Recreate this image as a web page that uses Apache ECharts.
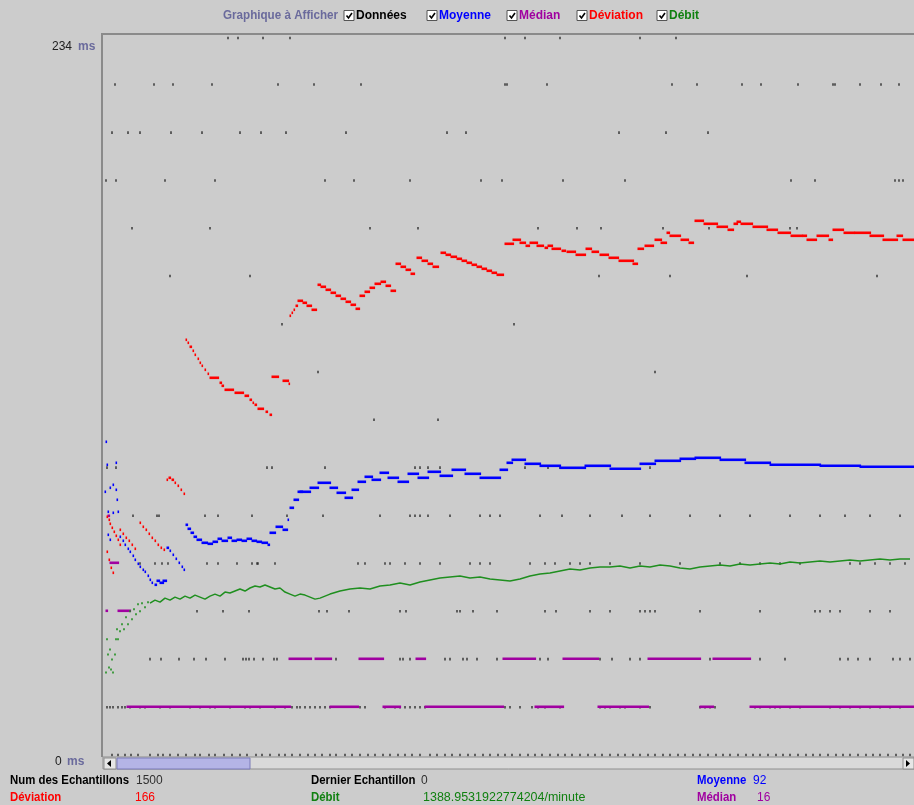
<!DOCTYPE html>
<html>
<head>
<meta charset="utf-8">
<script src="https://cdn.jsdelivr.net/npm/echarts@6/dist/echarts.min.js"></script>
<style>
  html, body { margin: 0; padding: 0; background: #cccccc; }
  #chart { width: 914px; height: 805px; }
</style>
</head>
<body>
<div id="chart"></div>
<script>
// Graph of sampler response times: one sample per pixel column.
// Values in ms; Débit in requests per minute (own hidden scale).

const yTickLabels = ['234', '0'];
const yUnit = 'ms';
const legendItems = ['Données', 'Moyenne', 'Médian', 'Déviation', 'Débit'];

// Données: individual samples, grouped by their (quantised) response time
const donneesLevels = [234, 218.8, 203.1, 187.5, 171.9, 156.3, 140.6, 125, 109.4, 93.8, 78.1, 62.5, 46.9, 31.3, 15.6, 0];
const donneesSamples = [
  [125, 135, 160, 187, 402, 422, 457, 537, 573],
  [12, 51, 70, 109, 175, 211, 258, 402, 404, 444, 569, 594, 639, 658, 695, 730, 732, 757, 778, 796],
  [9, 25, 37, 68, 99, 137, 158, 183, 243, 344, 363, 516, 563, 605],
  [3, 13, 62, 112, 222, 251, 307, 378, 399, 460, 522, 688, 712, 792, 796, 800],
  [29, 107, 267, 315, 435, 474, 498, 560, 606, 687, 694],
  [67, 147, 496, 567, 644, 774],
  [179, 411],
  [215, 552],
  [271, 335],
  [4, 13, 164, 169, 222, 312, 317, 325, 337, 422, 445, 457, 547],
  [30, 54, 56, 102, 115, 149, 184, 220, 277, 307, 312, 317, 325, 347, 377, 387, 397, 437, 459, 487, 519, 547, 587, 617, 647, 687, 717, 742, 767, 797],
  [37, 52, 59, 65, 104, 115, 134, 149, 154, 155, 172, 255, 262, 282, 287, 302, 317, 337, 367, 377, 387, 427, 442, 452, 467, 477, 487, 507, 537, 577, 617, 637, 657, 677, 697, 747, 757, 772, 787, 802],
  [94, 120, 146, 216, 224, 246, 297, 303, 354, 357, 370, 394, 442, 453, 487, 507, 537, 542, 547, 552, 597, 657, 712, 717, 727, 737, 767, 787],
  [47, 58, 76, 91, 103, 122, 140, 143, 146, 151, 160, 171, 174, 233, 297, 300, 307, 342, 347, 360, 364, 374, 394, 437, 445, 497, 509, 527, 537, 607, 657, 682, 737, 745, 755, 767, 790, 797, 807],
  [4, 7, 10, 15, 19, 22, 27, 37, 42, 57, 67, 87, 97, 107, 112, 127, 142, 147, 157, 172, 182, 189, 194, 197, 202, 207, 212, 217, 222, 227, 257, 262, 282, 292, 297, 302, 307, 312, 317, 322, 402, 407, 417, 429, 435, 442, 457, 497, 502, 507, 517, 522, 537, 547, 597, 602, 607, 612, 652, 657, 667, 672, 677, 687, 697, 727, 737, 747, 757, 767, 777, 787, 797],
  [9, 15, 22, 28, 35, 47, 55, 60, 67, 75, 83, 92, 97, 106, 112, 121, 129, 137, 144, 153, 159, 167, 176, 182, 189, 197, 205, 212, 219, 227, 233, 242, 249, 257, 265, 272, 280, 287, 295, 302, 309, 317, 327, 334, 342, 349, 357, 365, 372, 380, 387, 395, 402, 409, 417, 425, 432, 439, 447, 455, 462, 469, 477, 485, 492, 499, 507, 515, 522, 530, 537, 545, 552, 560, 567, 575, 582, 590, 597, 605, 613, 620, 627, 635, 643, 650, 657, 665, 673, 680, 687, 695, 703, 710, 717, 725, 733, 740, 747, 755, 763, 770, 777, 785, 793, 800, 807]
];

// Moyenne: runs of constant running average [first sample, last sample, ms]
const moyenneRuns = [
  [3, 3, 102.2], [4, 4, 94.6], [13, 13, 95.3], [2, 2, 85.8], [7, 7, 87.1], [10, 10, 88.1], [13, 13, 86.5], [14, 14, 83.2],
  [5, 5, 79.3], [10, 10, 79.0], [15, 15, 79.3], [5, 5, 71.8], [7, 7, 70.2],
  [17, 17, 71.1], [20, 20, 69.8], [22, 22, 68.5], [25, 25, 67.2], [27, 27, 66.3], [30, 30, 64.9], [32, 32, 63.6], [35, 35, 62.3],
  [37, 37, 61.4], [40, 40, 60.4], [42, 42, 59.7], [45, 45, 58.4], [47, 47, 57.1], [49, 49, 56.1], [52, 53, 55.5], [54, 56, 56.8],
  [57, 60, 56.1], [60, 63, 56.8],
  [64, 65, 67.6], [67, 67, 66.6], [70, 70, 65.3], [73, 73, 64.0], [76, 76, 62.7], [79, 79, 61.4], [81, 81, 60.4],
  [83, 84, 75.1], [85, 87, 73.8], [88, 90, 72.5], [91, 93, 71.1], [94, 98, 70.2], [99, 104, 69.2], [105, 109, 68.8], [110, 114, 69.5],
  [115, 118, 70.5], [119, 124, 69.8], [125, 128, 70.8], [129, 133, 69.8], [134, 138, 70.2], [139, 143, 69.8], [144, 148, 70.5],
  [149, 153, 69.8], [154, 158, 69.5], [159, 164, 69.2], [165, 166, 68.5], [167, 172, 72.5], [173, 179, 74.4], [180, 184, 73.4],
  [185, 185, 76.7], [187, 190, 80.6], [191, 195, 83.2], [195, 199, 85.8],
  [197, 207, 85.8], [207, 215, 87.1], [215, 227, 88.8], [227, 234, 87.1], [234, 242, 85.5], [242, 249, 83.9], [249, 255, 86.5],
  [255, 262, 89.1], [262, 269, 90.7], [269, 277, 89.8], [277, 285, 92.0], [285, 295, 90.4], [295, 305, 89.1], [305, 315, 91.7],
  [315, 325, 90.4], [325, 337, 92.4], [337, 349, 91.1], [349, 362, 93.0], [362, 377, 91.7], [377, 397, 90.4], [397, 404, 93.0],
  [404, 409, 95.3], [409, 422, 96.3], [422, 437, 95.0], [437, 457, 94.3], [457, 482, 93.7], [482, 507, 94.3], [507, 537, 93.3],
  [537, 552, 95.0], [552, 577, 96.0], [577, 592, 96.6], [592, 617, 96.9], [617, 642, 96.3], [642, 667, 95.3], [667, 717, 94.6],
  [717, 757, 94.3], [757, 811, 94.0]
];

// Médian: runs of constant median [first sample, last sample, ms]
const medianRuns = [
  [3, 4, 46.9], [5, 6, 78.1], [7, 15, 62.5], [15, 27, 46.9], [24, 187, 15.6], [186, 208, 31.3], [212, 228, 31.3], [227, 255, 15.6],
  [256, 280, 31.3], [280, 297, 15.6], [313, 322, 31.3], [322, 400, 15.6], [400, 432, 31.3], [432, 460, 15.6], [460, 495, 31.3],
  [495, 545, 15.6], [545, 597, 31.3], [597, 610, 15.6], [610, 647, 31.3], [647, 811, 15.6]
];

// Déviation: runs of constant standard deviation [first sample, last sample, ms]
const deviationRuns = [
  [4, 4, 77.7], [6, 6, 76.7], [7, 7, 75.4], [9, 9, 74.1], [11, 11, 72.8], [13, 13, 71.5], [15, 15, 70.2], [17, 17, 68.5],
  [4, 4, 66.3], [6, 6, 63.6], [8, 8, 61.0], [10, 10, 59.4],
  [17, 17, 73.4], [20, 20, 72.1], [23, 23, 70.8], [26, 26, 69.8], [29, 29, 68.5], [32, 32, 67.2],
  [37, 37, 75.7], [40, 40, 74.4], [43, 43, 73.4], [46, 46, 72.1], [49, 49, 70.8], [52, 52, 69.8], [55, 55, 68.5], [58, 58, 67.6], [61, 61, 66.9],
  [64, 64, 89.8], [66, 67, 90.4], [69, 70, 89.8], [72, 72, 88.8], [75, 75, 87.8], [78, 78, 86.5], [81, 81, 85.2],
  [83, 83, 135.4], [85, 85, 134.5], [87, 88, 133.2], [90, 90, 131.9], [92, 92, 130.5], [95, 95, 129.2], [97, 97, 127.9], [99, 99, 127.0],
  [102, 102, 125.7], [105, 105, 124.3], [107, 115, 123.0], [117, 118, 121.4], [119, 120, 120.4], [122, 130, 119.1], [132, 140, 118.1],
  [142, 145, 117.2], [147, 148, 115.9], [150, 150, 114.9], [152, 153, 114.2], [155, 160, 112.9], [163, 164, 111.9], [167, 168, 111.0],
  [169, 175, 123.4], [180, 185, 122.1], [186, 186, 121.1],
  [187, 187, 143.3], [189, 189, 144.3], [191, 191, 145.3], [193, 194, 146.5], [195, 199, 148.2], [200, 203, 147.5], [204, 208, 146.5], [209, 213, 145.2],
  [215, 217, 153.4], [218, 222, 152.7], [223, 227, 151.8], [228, 232, 150.8], [233, 237, 149.8], [238, 242, 148.8], [243, 247, 147.8],
  [248, 252, 146.9], [253, 256, 145.6],
  [257, 261, 149.8], [262, 266, 151.1], [267, 271, 152.4], [272, 277, 153.7], [278, 282, 154.3], [283, 287, 153.1], [288, 292, 151.4],
  [293, 297, 160.2], [298, 302, 159.3], [303, 307, 158.3], [308, 311, 157.0],
  [314, 318, 162.2], [319, 324, 161.2], [325, 329, 160.2], [330, 335, 159.3],
  [338, 342, 163.8], [343, 347, 163.2], [348, 353, 162.5], [354, 358, 161.9], [359, 363, 161.2], [364, 368, 160.6], [369, 373, 159.9],
  [374, 378, 159.3], [379, 383, 158.6], [384, 388, 158.0], [389, 393, 157.3], [394, 400, 156.7],
  [402, 410, 166.8], [410, 417, 168.1], [417, 422, 167.1], [423, 426, 166.1], [427, 434, 167.1], [434, 440, 166.1], [442, 444, 165.5],
  [445, 449, 166.1], [449, 457, 165.1], [459, 462, 164.5], [464, 472, 164.2], [473, 482, 163.2], [483, 488, 165.1], [489, 495, 164.2],
  [497, 505, 163.2], [506, 515, 162.2], [516, 530, 161.2], [530, 534, 160.2], [535, 540, 165.1], [542, 550, 166.1], [552, 558, 168.1],
  [558, 563, 167.1], [564, 566, 170.4], [567, 577, 169.4], [578, 585, 168.1], [586, 590, 167.1], [592, 600, 174.3], [601, 614, 173.3],
  [614, 624, 172.3], [625, 630, 171.3], [631, 634, 173.3], [634, 637, 174.0], [638, 649, 173.3], [650, 664, 172.3], [664, 674, 171.3],
  [675, 687, 170.4], [688, 699, 169.4], [700, 703, 169.4], [704, 713, 168.1], [714, 725, 169.4], [726, 729, 168.1], [730, 740, 171.3],
  [741, 751, 170.4], [752, 767, 170.4], [767, 780, 169.4], [780, 794, 168.1], [794, 799, 169.4], [800, 811, 168.1]
];

// Débit (requests / minute): first scattered samples, then the settled curve
const debitEarly = [
  [3, 572], [4, 802], [5, 697], [6, 607], [7, 732], [8, 593], [9, 663], [10, 572], [12, 697], [13, 802], [14, 872], [15, 802],
  [17, 858], [19, 907], [21, 872], [23, 955], [25, 907], [27, 997], [29, 941], [31, 1011], [33, 976], [35, 1046], [37, 997],
  [39, 1053], [42, 1025], [45, 1060]
];
const debitX = [47, 52, 57, 62, 67, 72, 77, 82, 87, 92, 97, 102, 107, 112, 117, 122, 127, 132, 137, 142, 147, 152, 157, 162, 167,
  172, 177, 182, 187, 192, 197, 202, 207, 212, 217, 222, 227, 237, 247, 257, 267, 277, 287, 297, 307, 317, 327, 337, 347, 357, 367,
  377, 387, 397, 407, 417, 427, 437, 447, 457, 467, 477, 487, 497, 507, 517, 527, 537, 547, 557, 567, 577, 587, 597, 607, 617, 627,
  637, 647, 657, 667, 677, 687, 697, 707, 717, 727, 737, 747, 757, 767, 777, 787, 797, 807];
const debitY = [1053, 1074, 1060, 1088, 1074, 1095, 1081, 1102, 1088, 1109, 1095, 1081, 1102, 1116, 1102, 1130, 1123, 1137, 1151,
  1137, 1158, 1172, 1165, 1179, 1165, 1151, 1158, 1130, 1116, 1102, 1116, 1109, 1095, 1081, 1088, 1102, 1116, 1137, 1151, 1158,
  1151, 1172, 1179, 1193, 1179, 1200, 1214, 1227, 1234, 1241, 1227, 1234, 1220, 1214, 1207, 1220, 1241, 1255, 1262, 1276, 1290,
  1283, 1297, 1304, 1304, 1311, 1297, 1311, 1304, 1318, 1311, 1297, 1290, 1304, 1311, 1318, 1311, 1325, 1318, 1325, 1332, 1325,
  1339, 1332, 1339, 1346, 1339, 1346, 1353, 1346, 1353, 1360, 1353, 1360, 1360];

// Summary figures
const stats = {
  count: 1500, last: 0, average: 92, deviation: 166,
  throughput: '1388.9531922774204/minute', median: 16
};

const COLORS = {
  donnees: '#1e1e1e', moyenne: '#0000ff', median: '#a000a0', deviation: '#ff0000', debit: '#1f8f1f',
  debitText: '#108010', slate: '#6a6a9c', bg: '#cccccc'
};

// ---------- chart ----------
const chart = echarts.init(document.getElementById('chart'), null, { renderer: 'canvas' });

const donneesData = [];
donneesLevels.forEach((lvl, i) => donneesSamples[i].forEach(s => donneesData.push([s, lvl])));

function runRenderer(color) {
  return function (params, api) {
    const a = api.coord([api.value(0), api.value(2)]);
    const b = api.coord([api.value(1), api.value(2)]);
    return {
      type: 'rect',
      shape: { x: a[0] - 0.5, y: Math.round(a[1]) - 1.5, width: b[0] - a[0] + 1.6, height: 2.6 },
      style: { fill: color }
    };
  };
}
function runSeries(name, data, color, z) {
  return {
    name, type: 'custom', data, z, silent: true,
    encode: { x: [0, 1], y: 2 },
    renderItem: runRenderer(color)
  };
}

const FONT = '"Liberation Sans", Arial, sans-serif';
const graphics = [];

// plot frame
graphics.push({ type: 'rect', shape: { x: 101, y: 33, width: 2, height: 724 }, style: { fill: '#8a8a8a' }, z: 5 });
graphics.push({ type: 'rect', shape: { x: 101, y: 33, width: 813, height: 2 }, style: { fill: '#8a8a8a' }, z: 5 });

// y-axis extremes
graphics.push({ type: 'text', left: 52, top: 41, style: { text: yTickLabels[0], font: '12px ' + FONT, fill: '#202020' } });
graphics.push({ type: 'text', left: 78, top: 41, style: { text: yUnit, font: 'bold 12px ' + FONT, fill: COLORS.slate } });
graphics.push({ type: 'text', left: 55, top: 756, style: { text: yTickLabels[1], font: '12px ' + FONT, fill: '#202020' } });
graphics.push({ type: 'text', left: 67, top: 756, style: { text: yUnit, font: 'bold 12px ' + FONT, fill: COLORS.slate } });

// header: series selector
graphics.push({ type: 'text', x: 223, y: 10, scaleX: 0.97, style: { text: 'Graphique à Afficher', font: 'bold 12px ' + FONT, fill: COLORS.slate } });
const legendX = [344, 427, 507, 577, 657];
const legendColors = ['#000000', COLORS.moyenne, COLORS.median, COLORS.deviation, COLORS.debitText];
legendItems.forEach((t, i) => {
  const x = legendX[i];
  graphics.push({ type: 'rect', shape: { x: x, y: 10.5, width: 10, height: 10 }, style: { fill: '#ffffff', stroke: '#555555', lineWidth: 1 } });
  graphics.push({ type: 'polyline', shape: { points: [[x + 2.5, 15.5], [x + 4.5, 18], [x + 8, 13]] }, style: { stroke: '#000000', lineWidth: 1.6, fill: null } });
  graphics.push({ type: 'text', left: x + 12, top: 10, style: { text: t, font: 'bold 12px ' + FONT, fill: legendColors[i] } });
});

// horizontal scrollbar under the graph
graphics.push({ type: 'rect', shape: { x: 103, y: 757, width: 811, height: 12 }, style: { fill: '#d9d9d9', stroke: '#8e8e8e', lineWidth: 1 }, z: 20 });
graphics.push({ type: 'rect', shape: { x: 104, y: 758, width: 12, height: 11 }, style: { fill: '#e6e6e6', stroke: '#8e8e8e', lineWidth: 1 }, z: 21 });
graphics.push({ type: 'polygon', shape: { points: [[107, 763.5], [111, 760], [111, 767]] }, style: { fill: '#000000' }, z: 22 });
graphics.push({ type: 'rect', shape: { x: 117, y: 758, width: 133, height: 11 }, style: { fill: '#b4b4e6', stroke: '#7a7ab8', lineWidth: 1 }, z: 21 });
graphics.push({ type: 'rect', shape: { x: 903, y: 758, width: 11, height: 11 }, style: { fill: '#e6e6e6', stroke: '#8e8e8e', lineWidth: 1 }, z: 21 });
graphics.push({ type: 'polygon', shape: { points: [[910, 763.5], [906, 760], [906, 767]] }, style: { fill: '#000000' }, z: 22 });

// summary lines (bold captions drawn slightly condensed)
function label(x, y, text, color, bold, sx) {
  graphics.push({
    type: 'text', x: x, y: y, scaleX: sx || (bold ? 0.95 : 1),
    style: { text: text, font: (bold ? 'bold ' : '') + '12px ' + FONT, fill: color }
  });
}
label(10, 775, 'Num des Echantillons', '#000000', true);
label(136, 775, String(stats.count), '#303030', false);
label(311, 775, 'Dernier Echantillon', '#000000', true);
label(421, 775, String(stats.last), '#303030', false);
label(697, 775, 'Moyenne', COLORS.moyenne, true);
label(753, 775, String(stats.average), COLORS.moyenne, false);
label(10, 792, 'Déviation', COLORS.deviation, true);
label(135, 792, String(stats.deviation), COLORS.deviation, false);
label(311, 792, 'Débit', COLORS.debitText, true);
label(423, 792, stats.throughput, COLORS.debitText, false, 1.04);
label(697, 792, 'Médian', COLORS.median, true);
label(757, 792, String(stats.median), COLORS.median, false);

chart.setOption({
  animation: false,
  backgroundColor: COLORS.bg,
  grid: { left: 103, right: 0, top: 34, height: 721, containLabel: false },
  xAxis: { type: 'value', min: 0, max: 811, show: false },
  yAxis: [
    { type: 'value', min: 0, max: 235.3, show: false },
    { type: 'value', min: 0, max: 5000, show: false }
  ],
  series: [
    {
      name: 'Données', type: 'scatter', data: donneesData, symbol: 'rect', symbolSize: [1.6, 2.6],
      itemStyle: { color: COLORS.donnees }, z: 2, silent: true
    },
    runSeries('Moyenne', moyenneRuns, COLORS.moyenne, 3),
    runSeries('Médian', medianRuns, COLORS.median, 3),
    runSeries('Déviation', deviationRuns, COLORS.deviation, 3),
    {
      name: 'Débit', type: 'scatter', yAxisIndex: 1, data: debitEarly, symbol: 'rect', symbolSize: [2, 2],
      itemStyle: { color: COLORS.debit }, z: 3, silent: true
    },
    {
      name: 'Débit', type: 'line', yAxisIndex: 1, data: debitX.map((x, i) => [x, debitY[i]]), symbol: 'none',
      lineStyle: { color: COLORS.debit, width: 1.5 }, z: 3, silent: true
    }
  ],
  graphic: graphics
});
</script>
</body>
</html>
